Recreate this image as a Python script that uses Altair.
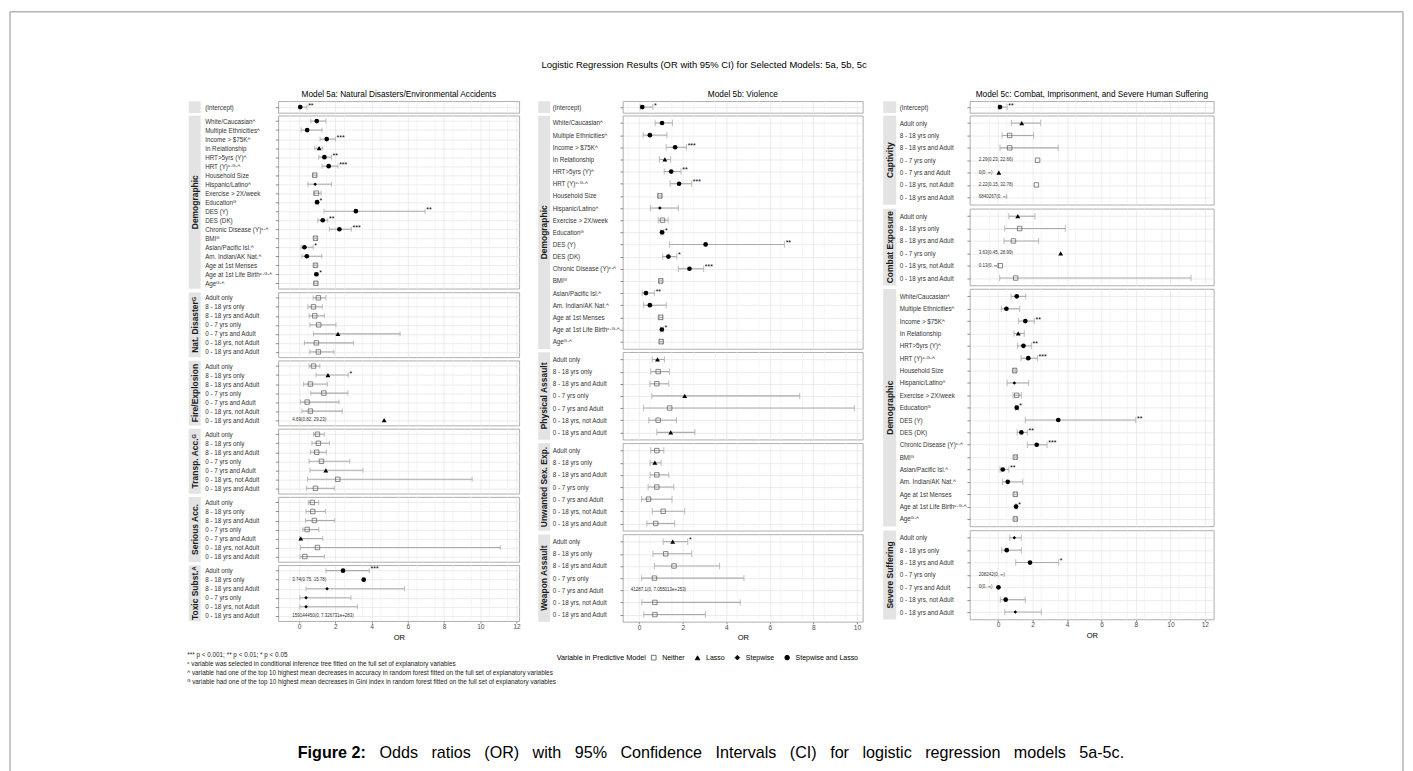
import altair as alt
import pandas as pd

FONT = "Liberation Sans, Arial, sans-serif"

# ---------------- row labels ----------------
INT_LABELS = ["(Intercept)"]
DEMO_LABELS = [
    "White/Caucasianᴬ", "Multiple Ethnicitiesᴬ", "Income > $75Kᴬ", "In Relationship",
    "HRT>5yrs (Y)ᴬ", "HRT (Y)ᶜ·ᴳ·ᴬ", "Household Size", "Hispanic/Latinoᴬ",
    "Exercise > 2X/week", "Educationᴳ", "DES (Y)", "DES (DK)", "Chronic Disease (Y)ᶜ·ᴬ",
    "BMIᴳ", "Asian/Pacific Isl.ᴬ", "Am. Indian/AK Nat.ᴬ", "Age at 1st Menses",
    "Age at 1st Life Birthᶜ·ᴳ·ᴬ", "Ageᴳ·ᴬ",
]
EXPO7_LABELS = ["Adult only", "8 - 18 yrs only", "8 - 18 yrs and Adult", "0 - 7 yrs only",
                "0 - 7 yrs and Adult", "0 - 18 yrs, not Adult", "0 - 18 yrs and Adult"]
EXPO6_LABELS = ["Adult only", "8 - 18 yrs only", "8 - 18 yrs and Adult", "0 - 7 yrs only",
                "0 - 18 yrs, not Adult", "0 - 18 yrs and Adult"]
DEMO_SEL = ["B", "B", "B", "L", "B", "B", "N", "S", "N", "B", "B", "B", "B", "N", "B", "B", "N", "B", "N"]

# ---------------- Model 5a ----------------
A_INT_OR, A_INT_LO, A_INT_HI = [0.06], [0.01], [0.43]
A_INT_SEL, A_INT_SIG = ["B"], ["**"]

A_DEMO_OR = [0.97, 0.44, 1.52, 1.10, 1.39, 1.63, 0.86, 0.88, 0.95, 0.99, 3.13, 1.30, 2.22, 0.90, 0.29, 0.42, 0.90, 0.95, 0.92]
A_DEMO_LO = [0.64, 0.11, 1.15, 0.86, 1.08, 1.26, 0.78, 0.48, 0.79, 0.91, 1.37, 1.03, 1.67, 0.83, 0.11, 0.15, 0.83, 0.87, 0.85]
A_DEMO_HI = [1.47, 1.26, 2.00, 1.30, 1.78, 2.14, 0.95, 1.78, 1.21, 1.05, 6.95, 1.58, 2.88, 0.97, 0.77, 1.25, 0.97, 1.04, 0.99]
A_DEMO_SIG = ["", "", "***", "", "**", "***", "", "", "", "*", "**", "**", "***", "", "*", "", "", "*", ""]

A_NAT_OR = [1.06, 0.79, 0.86, 1.08, 2.14, 0.95, 1.06]
A_NAT_LO = [0.77, 0.48, 0.55, 0.59, 0.79, 0.29, 0.59]
A_NAT_HI = [1.47, 1.28, 1.39, 2.03, 5.57, 3.00, 1.92]
A_NAT_SEL = ["N", "N", "N", "N", "L", "N", "N"]

A_FIRE_OR = [0.79, 1.59, 0.62, 1.36, 0.44, 0.62, 4.69]
A_FIRE_LO = [0.55, 0.93, 0.24, 0.64, 0.07, 0.15, None]
A_FIRE_HI = [1.14, 2.71, 1.56, 2.69, 2.20, 2.38, None]
A_FIRE_SEL = ["N", "L", "N", "N", "N", "N", "L"]
A_FIRE_SIG = ["", "*", "", "", "", "", ""]
A_FIRE_NOTE = ["", "", "", "", "", "", "4.69(0.82, 29.23)"]

A_TRAN_OR = [1.01, 1.06, 0.97, 1.23, 1.47, 2.13, 0.90]
A_TRAN_LO = [0.79, 0.70, 0.62, 0.55, 0.60, 0.46, 0.40]
A_TRAN_HI = [1.39, 1.67, 1.50, 2.79, 3.52, 9.55, 1.94]
A_TRAN_SEL = ["N", "N", "N", "N", "L", "N", "N"]

A_SER_OR = [0.73, 0.75, 0.84, 0.44, 0.09, 1.01, 0.31]
A_SER_LO = [0.51, 0.38, 0.35, 0.20, 0.02, 0.07, 0.05]
A_SER_HI = [1.08, 1.45, 1.96, 1.08, 1.30, 11.10, 1.39]
A_SER_SEL = ["N", "N", "N", "N", "L", "N", "N"]

A_TOX_OR = [2.42, 3.56, 1.54, 0.38, 0.38, None]
A_TOX_LO = [1.48, None, 0.38, 0.04, 0.04, None]
A_TOX_HI = [3.87, None, 5.81, 2.86, 3.21, None]
A_TOX_SEL = ["B", "B", "S", "S", "S", "N"]
A_TOX_SIG = ["***", "", "", "", "", ""]
A_TOX_NOTE = ["", "3.74(0.75, 15.78)", "", "", "", "159144450(0, 7.326731e+283)"]

# ---------------- Model 5b ----------------
B_INT_OR, B_INT_LO, B_INT_HI = [0.14], [0.05], [0.63]
B_INT_SEL, B_INT_SIG = ["B"], ["*"]

B_DEMO_OR = [1.05, 0.49, 1.65, 1.18, 1.47, 1.83, 0.95, 0.95, 1.07, 1.05, 3.05, 1.34, 2.31, 0.99, 0.31, 0.49, 0.98, 1.04, 1.01]
B_DEMO_LO = [0.73, 0.18, 1.24, 0.93, 1.15, 1.42, 0.88, 0.52, 0.87, 0.99, 1.39, 1.08, 1.80, 0.93, 0.14, 0.20, 0.91, 0.98, 0.94]
B_DEMO_HI = [1.53, 1.27, 2.17, 1.44, 1.92, 2.41, 1.03, 1.80, 1.33, 1.13, 6.67, 1.73, 2.96, 1.06, 0.70, 1.24, 1.08, 1.11, 1.08]
B_DEMO_SIG = ["", "", "***", "", "**", "***", "", "", "", "*", "**", "*", "***", "", "**", "", "", "*", ""]

B_PHYS_OR = [0.84, 0.87, 0.81, 2.09, 1.40, 0.87, 1.45]
B_PHYS_LO = [0.60, 0.53, 0.49, 0.58, 0.20, 0.44, 0.81]
B_PHYS_HI = [1.16, 1.39, 1.36, 7.37, 9.88, 1.71, 2.56]
B_PHYS_SEL = ["L", "N", "N", "L", "N", "N", "L"]

B_SEX_OR = [0.81, 0.72, 0.81, 0.81, 0.43, 1.10, 0.76]
B_SEX_LO = [0.53, 0.50, 0.50, 0.41, 0.11, 0.60, 0.35]
B_SEX_HI = [1.13, 1.01, 1.36, 1.59, 1.51, 2.09, 1.63]
B_SEX_SEL = ["N", "L", "N", "N", "N", "N", "N"]

B_WEAP_OR = [1.54, 1.22, 1.60, 0.70, None, 0.72, 0.72]
B_WEAP_LO = [1.10, 0.63, 0.70, 0.11, None, 0.12, 0.21]
B_WEAP_HI = [2.23, 2.41, 3.69, 4.81, None, 4.64, 3.04]
B_WEAP_SEL = ["L", "N", "N", "N", "N", "N", "N"]
B_WEAP_SIG = ["*", "", "", "", "", "", ""]
B_WEAP_NOTE = ["", "", "", "", "41287.1(0, 7.055013e+253)", "", ""]

# ---------------- Model 5c ----------------
C_INT_OR, C_INT_LO, C_INT_HI = [0.11], [0.02], [0.52]
C_INT_SEL, C_INT_SIG = ["B"], ["**"]

C_CAPT_OR = [1.37, 0.67, 0.67, 2.29, 0.04, 2.22, None]
C_CAPT_LO = [0.77, 0.23, 0.11, None, None, None, None]
C_CAPT_HI = [2.47, 2.06, 3.49, None, None, None, None]
C_CAPT_SEL = ["L", "N", "N", "N", "L", "N", "N"]
C_CAPT_NOTE = ["", "", "", "2.29(0.23, 22.66)", "0(0, ∞)", "2.22(0.15, 32.78)", "6840267(0, ∞)"]

C_COMB_OR = [1.14, 1.25, 0.89, 3.63, 0.13, 1.02]
C_COMB_LO = [0.62, 0.38, 0.34, None, None, 0.09]
C_COMB_HI = [2.14, 3.90, 2.35, None, None, 11.20]
C_COMB_SEL = ["L", "N", "N", "L", "N", "N"]
C_COMB_NOTE = ["", "", "", "3.63(0.45, 28.99)", "0.13(0, ∞)", ""]

C_DEMO_OR = [1.08, 0.48, 1.58, 1.17, 1.47, 1.75, 0.96, 0.94, 1.08, 1.08, 3.49, 1.35, 2.24, 1.00, 0.27, 0.56, 1.00, 1.04, 1.00]
C_DEMO_LO = [0.75, 0.19, 1.19, 0.92, 1.12, 1.33, 0.90, 0.52, 0.87, 1.00, 1.58, 1.10, 1.70, 0.94, 0.11, 0.25, 0.93, 0.99, 0.94]
C_DEMO_HI = [1.60, 1.25, 2.10, 1.52, 1.93, 2.28, 1.03, 1.77, 1.35, 1.16, 7.99, 1.70, 2.84, 1.07, 0.62, 1.43, 1.08, 1.10, 1.07]
C_DEMO_SIG = ["", "", "**", "", "**", "***", "", "", "", "*", "**", "**", "***", "", "**", "", "", "*", ""]

C_SEV_OR = [0.94, 0.50, 1.85, None, 0.02, 0.44, 1.00]
C_SEV_LO = [0.67, 0.21, 1.02, None, None, 0.13, 0.38]
C_SEV_HI = [1.35, 1.35, 3.51, None, None, 1.58, 2.51]
C_SEV_SEL = ["S", "B", "B", "N", "B", "B", "S"]
C_SEV_SIG = ["", "", "*", "", "", "", ""]
C_SEV_NOTE = ["", "", "", "208242(0, ∞)", "0(0, ∞)", "", ""]

# ---------------- axis breaks ----------------
A_TICKS = list(range(0, 13))
B_TICKS = list(range(0, 11))
C_TICKS = list(range(0, 13))
A_MINOR = [v + 0.5 for v in range(-1, 12)]
B_MINOR = [v + 0.5 for v in range(-1, 10)]
C_MINOR = [v + 0.5 for v in range(-1, 12)]

# ---------------- texts ----------------
MAIN_TITLE = "Logistic Regression Results (OR with 95% CI) for Selected Models: 5a, 5b, 5c"
COL_TITLES = ["Model 5a: Natural Disasters/Environmental Accidents", "Model 5b: Violence",
              "Model 5c: Combat, Imprisonment, and Severe Human Suffering"]
FOOTNOTES = [
    "*** p < 0.001; ** p < 0.01; * p < 0.05",
    "ᶜ variable was selected in conditional inference tree fitted on the full set of explanatory variables",
    "ᴬ variable had one of the top 10 highest mean decreases in accuracy in random forest fitted on the full set of explanatory variables",
    "ᴳ variable had one of the top 10 highest mean decreases in Gini index in random forest fitted on the full set of explanatory variables",
]
CAPTION_BOLD = "Figure 2:"
CAPTION_WORDS = ["Odds", "ratios", "(OR)", "with", "95%", "Confidence", "Intervals", "(CI)", "for",
                 "logistic", "regression", "models", "5a-5c."]
LEGEND_TITLE = "Variable in Predictive Model"

SEL_NAMES = {"N": "Neither", "L": "Lasso", "S": "Stepwise", "B": "Stepwise and Lasso"}
SEL_DOMAIN = ["Neither", "Lasso", "Stepwise", "Stepwise and Lasso"]
SEL_STYLE = {
    "Neither": dict(shape="square", filled=False, size=20, color="#555555", strokeWidth=0.7),
    "Lasso": dict(shape="triangle-up", filled=True, size=24, color="black", strokeWidth=0.3),
    "Stepwise": dict(shape="diamond", filled=True, size=12, color="black", strokeWidth=0.3),
    "Stepwise and Lasso": dict(shape="circle", filled=True, size=22, color="black", strokeWidth=0.3),
}

BAR = "#ababab"
BORDER = "#9a9a9a"
STRIP = "#e3e3e3"
GRID_MAJ = "#e4e4e4"
GRID_MIN = "#f0f0f0"

COL_A = dict(dom=[-1.15, 12.15], width=242, u=9.05, lab=74, strip=(-90, -78), note_dx=14, cap=5.0,
             ticks=A_TICKS, minor=A_MINOR)
COL_B = dict(dom=[-0.75, 10.27], width=241, u=12.2, lab=71, strip=(-85, -73), note_dx=8, cap=6.5,
             ticks=B_TICKS, minor=B_MINOR)
COL_C = dict(dom=[-1.64, 12.52], width=245, u=12.42, lab=71, strip=(-87, -74), note_dx=9, cap=6.5,
             ticks=C_TICKS, minor=C_MINOR)
INT_H = 11.7


def blanks(n):
    return [""] * n


def make_panel(labels, est, lo, hi, sel, sig, note, strip, col, title=None, bottom=False):
    n = len(labels)
    height = INT_H if n == 1 else (n + 0.2) * col["u"]
    df = pd.DataFrame({"label": labels, "est": est, "lo": lo, "hi": hi,
                       "sel": [SEL_NAMES[s] for s in sel], "sig": sig, "note": note})
    base = alt.Chart(df)
    if bottom:
        xaxis = alt.Axis(values=col["ticks"], grid=True, gridColor=GRID_MAJ, gridWidth=0.7, domain=False,
                         ticks=True, tickSize=2, tickWidth=0.6, tickColor="#444444",
                         labelFont=FONT, labelFontSize=6.6, labelColor="#4d4d4d", labelPadding=0.5,
                         labelOverlap=False, labelFlush=False, format="d",
                         title="OR", titleFont=FONT, titleFontSize=7.6, titleFontWeight="normal",
                         titleColor="black", titlePadding=3)
    else:
        xaxis = alt.Axis(values=col["ticks"], grid=True, gridColor=GRID_MAJ, gridWidth=0.7, domain=False,
                         ticks=False, labels=False, title=None)
    xs = alt.Scale(domain=col["dom"], nice=False, zero=False)
    ys = alt.Scale(type="point", domain=labels, padding=0.6)
    yax = alt.Axis(title=None, labelAlign="left", labelPadding=col["lab"] - 3, tickSize=3, tickWidth=0.6,
                   tickColor="#444444", domain=False, grid=True, gridColor=GRID_MAJ, gridWidth=0.7,
                   labelFont=FONT, labelFontSize=6.3, labelColor="#333333", labelLimit=0)
    Y = alt.Y("label:N", scale=ys, axis=yax, sort=labels)
    Y2 = alt.Y("label:N", scale=ys, sort=labels)
    valid = "isValid(datum.lo) && isValid(datum.hi)"

    minor_df = pd.DataFrame({"g": col["minor"]})
    strip_data = alt.Data(values=[{"s": strip}])
    layers = [
        alt.Chart(minor_df).mark_rule(color=GRID_MIN, strokeWidth=0.7).encode(x=alt.X("g:Q", scale=xs)),
        base.transform_filter(valid).mark_rule(color=BAR, strokeWidth=1.1).encode(
            x=alt.X("lo:Q", scale=xs, axis=xaxis), x2="hi:Q", y=Y),
        alt.Chart(strip_data).mark_rect(color=STRIP).encode(
            x=alt.value(col["strip"][0]), x2=alt.value(col["strip"][1]),
            y=alt.value(0), y2=alt.value(height)),
    ]
    if strip:
        layers.append(alt.Chart(strip_data).mark_text(
            angle=270, font=FONT, fontSize=8.5, fontWeight="bold", color="#1a1a1a",
            align="center", baseline="middle").encode(
            x=alt.value((col["strip"][0] + col["strip"][1]) / 2), y=alt.value(height / 2), text="s:N"))
    layers.append(base.transform_filter(valid).transform_fold(["lo", "hi"], as_=["k", "v"]).mark_tick(
        color=BAR, thickness=1.1, size=col["cap"]).encode(
        x=alt.X("v:Q", scale=xs), y=Y2))
    for name in SEL_DOMAIN:
        st = SEL_STYLE[name]
        layers.append(base.transform_filter(
            f"datum.sel === '{name}' && isValid(datum.est)").mark_point(
            shape=st["shape"], filled=st["filled"], size=st["size"], color=st["color"],
            strokeWidth=st["strokeWidth"], opacity=1).encode(
            x=alt.X("est:Q", scale=xs), y=Y2))
    layers.append(base.transform_filter("datum.sig !== ''").mark_text(
        align="left", baseline="middle", dx=1.2, dy=-1.5, font=FONT, fontSize=7, color="black").encode(
        x=alt.X("hi:Q", scale=xs), y=Y2, text="sig:N"))
    layers.append(base.transform_filter("datum.note !== ''").mark_text(
        align="left", baseline="middle", font=FONT, fontSize=4.5, color="#333333").encode(
        x=alt.value(col["note_dx"]), y=Y2, text="note:N"))

    props = dict(width=col["width"], height=height,
                 view=alt.ViewBackground(stroke=BORDER, strokeWidth=0.8))
    if title:
        props["title"] = alt.TitleParams(text=title, font=FONT, fontSize=8.3, fontWeight="normal",
                                         color="black", anchor="middle", frame="group", offset=3)
    return alt.layer(*layers).properties(**props)


def column(intercept, panels):
    return alt.vconcat(intercept, alt.vconcat(*panels, spacing=1.5), spacing=0.5)


col_a = column(
    make_panel(INT_LABELS, A_INT_OR, A_INT_LO, A_INT_HI, A_INT_SEL, A_INT_SIG, blanks(1), "", COL_A,
               title=COL_TITLES[0]),
    [
        make_panel(DEMO_LABELS, A_DEMO_OR, A_DEMO_LO, A_DEMO_HI, DEMO_SEL, A_DEMO_SIG, blanks(19), "Demographic", COL_A),
        make_panel(EXPO7_LABELS, A_NAT_OR, A_NAT_LO, A_NAT_HI, A_NAT_SEL, blanks(7), blanks(7), "Nat. Disasterᴳ", COL_A),
        make_panel(EXPO7_LABELS, A_FIRE_OR, A_FIRE_LO, A_FIRE_HI, A_FIRE_SEL, A_FIRE_SIG, A_FIRE_NOTE, "Fire/Explosion", COL_A),
        make_panel(EXPO7_LABELS, A_TRAN_OR, A_TRAN_LO, A_TRAN_HI, A_TRAN_SEL, blanks(7), blanks(7), "Transp. Acc.ᴳ", COL_A),
        make_panel(EXPO7_LABELS, A_SER_OR, A_SER_LO, A_SER_HI, A_SER_SEL, blanks(7), blanks(7), "Serious Acc.", COL_A),
        make_panel(EXPO6_LABELS, A_TOX_OR, A_TOX_LO, A_TOX_HI, A_TOX_SEL, A_TOX_SIG, A_TOX_NOTE, "Toxic Subst.ᴬ", COL_A,
                   bottom=True),
    ],
)
col_b = column(
    make_panel(INT_LABELS, B_INT_OR, B_INT_LO, B_INT_HI, B_INT_SEL, B_INT_SIG, blanks(1), "", COL_B,
               title=COL_TITLES[1]),
    [
        make_panel(DEMO_LABELS, B_DEMO_OR, B_DEMO_LO, B_DEMO_HI, DEMO_SEL, B_DEMO_SIG, blanks(19), "Demographic", COL_B),
        make_panel(EXPO7_LABELS, B_PHYS_OR, B_PHYS_LO, B_PHYS_HI, B_PHYS_SEL, blanks(7), blanks(7), "Physical Assault", COL_B),
        make_panel(EXPO7_LABELS, B_SEX_OR, B_SEX_LO, B_SEX_HI, B_SEX_SEL, blanks(7), blanks(7), "Unwanted Sex. Exp.", COL_B),
        make_panel(EXPO7_LABELS, B_WEAP_OR, B_WEAP_LO, B_WEAP_HI, B_WEAP_SEL, B_WEAP_SIG, B_WEAP_NOTE, "Weapon Assault", COL_B,
                   bottom=True),
    ],
)
col_c = column(
    make_panel(INT_LABELS, C_INT_OR, C_INT_LO, C_INT_HI, C_INT_SEL, C_INT_SIG, blanks(1), "", COL_C,
               title=COL_TITLES[2]),
    [
        make_panel(EXPO7_LABELS, C_CAPT_OR, C_CAPT_LO, C_CAPT_HI, C_CAPT_SEL, blanks(7), C_CAPT_NOTE, "Captivity", COL_C),
        make_panel(EXPO6_LABELS, C_COMB_OR, C_COMB_LO, C_COMB_HI, C_COMB_SEL, blanks(6), C_COMB_NOTE, "Combat Exposure", COL_C),
        make_panel(DEMO_LABELS, C_DEMO_OR, C_DEMO_LO, C_DEMO_HI, DEMO_SEL, C_DEMO_SIG, blanks(19), "Demographic", COL_C),
        make_panel(EXPO7_LABELS, C_SEV_OR, C_SEV_LO, C_SEV_HI, C_SEV_SEL, C_SEV_SIG, C_SEV_NOTE, "Severe Suffering", COL_C,
                   bottom=True),
    ],
)

cols = alt.hconcat(alt.hconcat(col_a, col_b, spacing=16), col_c, spacing=18.5)

one = alt.Data(values=[{"a": 1}])
spacer = alt.Chart(one).mark_rect(opacity=0).encode(
    x=alt.value(0), x2=alt.value(1), y=alt.value(0), y2=alt.value(1)).properties(
    width=1, height=76, view=alt.ViewBackground(stroke="transparent"))
content = alt.vconcat(spacer, cols, spacing=0)

# ---------------- frame chart: border, title, footnotes, legend, caption ----------------
FR = "#b4b4b4"
fr_layers = [
    alt.Chart(one).mark_rule(color=FR, strokeWidth=1.5).encode(x=alt.value(0), y=alt.value(0), y2=alt.value(765)),
    alt.Chart(one).mark_rule(color=FR, strokeWidth=1.5).encode(x=alt.value(1399), y=alt.value(0), y2=alt.value(765)),
    alt.Chart(one).mark_rule(color=FR, strokeWidth=1.5).encode(x=alt.value(0), x2=alt.value(1399), y=alt.value(0)),
    alt.Chart(alt.Data(values=[{"t": MAIN_TITLE}])).mark_text(
        font=FONT, fontSize=9.5, color="black", align="center", baseline="middle").encode(
        x=alt.value(697), y=alt.value(54), text="t:N"),
]
for i, line in enumerate(FOOTNOTES):
    fr_layers.append(alt.Chart(alt.Data(values=[{"t": line}])).mark_text(
        font=FONT, fontSize=6.4, color="#222222", align="left", baseline="middle").encode(
        x=alt.value(178), y=alt.value(646.5 + i * 9), text="t:N"))
fr_layers.append(alt.Chart(alt.Data(values=[{"t": CAPTION_BOLD}])).mark_text(
    font=FONT, fontSize=16.2, fontWeight="bold", color="black", align="left", baseline="middle").encode(
    x=alt.value(289), y=alt.value(745), text="t:N"))
fr_layers.append(alt.Chart(alt.Data(values=[{"t": (" " + "\u00a0" * 2).join(CAPTION_WORDS)}])).mark_text(
    font=FONT, fontSize=16.2, color="black", align="left", baseline="middle").encode(
    x=alt.value(371), y=alt.value(745), text="t:N"))

leg = alt.Legend(orient="none", legendX=549, legendY=645, direction="horizontal", title=LEGEND_TITLE,
                 titleOrient="left", titleFont=FONT, titleFontSize=7.3, titleFontWeight="normal",
                 titleColor="black", titlePadding=4, labelFont=FONT, labelFontSize=7, labelColor="black",
                 labelOffset=5, columnPadding=8, symbolSize=22, symbolOpacity=1, symbolStrokeWidth=0.8,
                 padding=0)
fr_layers.append(alt.Chart(pd.DataFrame({"sel": SEL_DOMAIN})).mark_point(opacity=0, size=1).encode(
    x=alt.value(0), y=alt.value(0),
    shape=alt.Shape("sel:N", scale=alt.Scale(domain=SEL_DOMAIN, range=["square", "triangle-up", "diamond", "circle"]),
                    legend=leg),
    fill=alt.Fill("sel:N", scale=alt.Scale(domain=SEL_DOMAIN, range=["transparent", "black", "black", "black"]),
                  legend=leg),
    stroke=alt.Stroke("sel:N", scale=alt.Scale(domain=SEL_DOMAIN, range=["#555555", "black", "black", "black"]),
                      legend=leg),
))
frame_chart = alt.layer(*fr_layers).properties(width=1, height=1,
                                                view=alt.ViewBackground(stroke="transparent"))

chart = alt.hconcat(frame_chart, content, spacing=268.5, bounds="flush").properties(
    padding=0).configure_view(stroke="transparent")

chart.save("out.html", embed_options={"renderer": "svg", "actions": False})
